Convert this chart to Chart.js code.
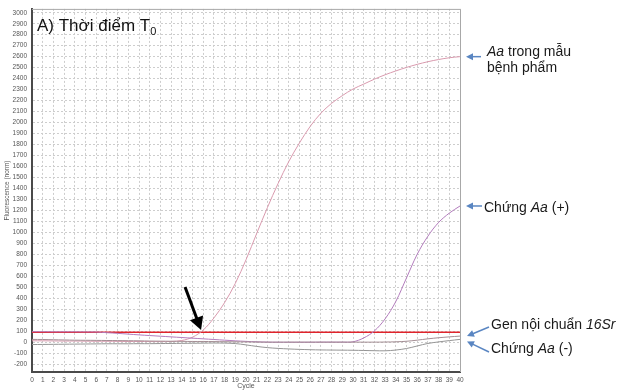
<!DOCTYPE html>
<html>
<head>
<meta charset="utf-8">
<script src="https://cdn.jsdelivr.net/npm/chart.js@4"></script>
<style>
  html, body { margin: 0; padding: 0; background: #fff; }
  #wrap { width: 617px; height: 391px; position: relative; }
</style>
</head>
<body>
<div id="wrap"><canvas id="pcrChart"></canvas></div>
<script>
// Amplification cycles
const cycles = [0, 1, 2, 3, 4, 5, 6, 7, 8, 9, 10, 11, 12, 13, 14, 15, 16, 17, 18, 19, 20,
  21, 22, 23, 24, 25, 26, 27, 28, 29, 30, 31, 32, 33, 34, 35, 36, 37, 38, 39, 40];

// Fluorescence (norm) per cycle
const sampleAa = [12, 12, 11, 10, 10, 9, 8, 8, 7, 6, 6, 5, 5, 6, 15, 45, 110, 220, 360, 535, 750,
  990, 1225, 1445, 1645, 1815, 1965, 2085, 2175, 2245, 2305, 2350, 2395, 2435, 2470, 2502, 2530, 2554, 2574, 2590, 2600];
const positiveAa = [95, 95, 94, 94, 94, 93, 92, 86, 80, 73, 66, 60, 54, 48, 42, 36, 30, 24, 18, 12, 7,
  3, 0, -1, -1, -1, -1, 0, 0, 0, 3, 38, 102, 212, 370, 585, 800, 965, 1090, 1175, 1240];
const gene16Sr = [25, 24, 22, 20, 18, 17, 16, 15, 14, 13, 12, 10, 9, 8, 7, 6, 6, 5, 4, 3, 2,
  1, 0, 0, 0, 0, 0, 0, 0, 0, 0, 0, 0, 1, 3, 8, 18, 30, 40, 48, 55];
const negativeAa = [-22, -21, -20, -19, -18, -17, -16, -15, -15, -15, -14, -14, -13, -12, -11, -10, -9, -8, -9, -13, -25,
  -39, -50, -57, -62, -66, -69, -71, -72, -73, -74, -76, -78, -79, -72, -58, -35, -12, 2, 14, 25];
const threshold = 90;

// Axis ticks
const yTicks = [-200, -100, 0, 100, 200, 300, 400, 500, 600, 700, 800, 900, 1000, 1100, 1200, 1300, 1400,
  1500, 1600, 1700, 1800, 1900, 2000, 2100, 2200, 2300, 2400, 2500, 2600, 2700, 2800, 2900, 3000];

const FONT = '"Liberation Sans", Arial, sans-serif';

function toPoints(values) {
    return cycles.map((c, i) => ({ x: c, y: values[i] }));
}

// Draws an arrow from (x1,y1) to (x2,y2) with a filled head at the end
function arrow(ctx, x1, y1, x2, y2, color, width, headLen, headHalf) {
    const ang = Math.atan2(y2 - y1, x2 - x1);
    ctx.save();
    ctx.strokeStyle = color;
    ctx.fillStyle = color;
    ctx.lineWidth = width;
    ctx.beginPath();
    ctx.moveTo(x1, y1);
    ctx.lineTo(x2 - Math.cos(ang) * headLen * 0.8, y2 - Math.sin(ang) * headLen * 0.8);
    ctx.stroke();
    ctx.beginPath();
    ctx.moveTo(x2, y2);
    ctx.lineTo(x2 - Math.cos(ang) * headLen - Math.sin(ang) * headHalf, y2 - Math.sin(ang) * headLen + Math.cos(ang) * headHalf);
    ctx.lineTo(x2 - Math.cos(ang) * headLen + Math.sin(ang) * headHalf, y2 - Math.sin(ang) * headLen - Math.cos(ang) * headHalf);
    ctx.closePath();
    ctx.fill();
    ctx.restore();
}

// Writes a run of [text, italic] pieces left to right
function richText(ctx, parts, x, y, size) {
    let cx = x;
    parts.forEach(([txt, italic]) => {
        ctx.font = (italic ? 'italic ' : '') + size + 'px ' + FONT;
        ctx.fillText(txt, cx, y);
        cx += ctx.measureText(txt).width;
    });
}

const annotations = {
    id: 'annotations',
    afterDraw(chart) {
        const { ctx, chartArea: a, scales: { x, y } } = chart;
        ctx.save();

        // light frame on top and right
        ctx.strokeStyle = '#a8a8a8';
        ctx.lineWidth = 1;
        ctx.beginPath();
        ctx.moveTo(a.left, a.top + 0.5);
        ctx.lineTo(a.right + 0.5, a.top + 0.5);
        ctx.lineTo(a.right + 0.5, a.bottom);
        ctx.stroke();

        // panel title
        ctx.fillStyle = '#111';
        ctx.textBaseline = 'alphabetic';
        ctx.font = '17px ' + FONT;
        const t = 'A) Thời điểm T';
        ctx.fillText(t, 37, 31);
        const tw = ctx.measureText(t).width;
        ctx.font = '11px ' + FONT;
        ctx.fillText('0', 37 + tw, 35);

        // black arrow at the threshold crossing of the sample
        const tipX = x.getPixelForValue(15.8);
        const tipY = y.getPixelForValue(110);
        arrow(ctx, tipX - 16, tipY - 43, tipX, tipY, '#000', 3, 13, 7);

        // series labels on the right
        const blue = '#5a86c2';
        const endX = x.getPixelForValue(40);
        ctx.fillStyle = '#1a1a1a';
        const ySample = y.getPixelForValue(sampleAa[sampleAa.length - 1]);
        arrow(ctx, 481, ySample, endX + 6, ySample, blue, 1.5, 7, 3.5);
        richText(ctx, [['Aa', true], [' trong mẫu', false]], 487, 56, 14);
        richText(ctx, [['bệnh phẩm', false]], 487, 72, 14);

        const yPos = y.getPixelForValue(positiveAa[positiveAa.length - 1]);
        arrow(ctx, 482, yPos, endX + 6, yPos, blue, 1.5, 7, 3.5);
        richText(ctx, [['Chứng ', false], ['Aa', true], [' (+)', false]], 484, 212, 14);

        const yGene = y.getPixelForValue(gene16Sr[gene16Sr.length - 1]);
        arrow(ctx, 489, 327, endX + 7, yGene, blue, 1.5, 7, 3.5);
        richText(ctx, [['Gen nội chuẩn ', false], ['16Sr', true]], 491, 329, 14);

        const yNeg = y.getPixelForValue(negativeAa[negativeAa.length - 1]);
        arrow(ctx, 489, 352, endX + 7, yNeg + 2, blue, 1.5, 7, 3.5);
        richText(ctx, [['Chứng ', false], ['Aa', true], [' (-)', false]], 491, 353, 14);

        ctx.restore();
    }
};

const lineStyle = {
    borderWidth: 1,
    pointRadius: 0,
    tension: 0.35,
    fill: false
};

new Chart(document.getElementById('pcrChart'), {
    type: 'line',
    data: {
        datasets: [
            { label: 'Chứng Aa (-)', data: toPoints(negativeAa), borderColor: '#959595', ...lineStyle },
            { label: 'Gen nội chuẩn 16Sr', data: toPoints(gene16Sr), borderColor: '#a48e94', ...lineStyle },
            { label: 'Chứng Aa (+)', data: toPoints(positiveAa), borderColor: '#b27cbc', ...lineStyle },
            { label: 'Aa trong mẫu bệnh phẩm', data: toPoints(sampleAa), borderColor: '#d99aae', ...lineStyle },
            {
                label: 'Threshold',
                data: [{ x: cycles[0], y: threshold }, { x: cycles[cycles.length - 1], y: threshold }],
                borderColor: '#e0242c', borderWidth: 1.6, pointRadius: 0
            }
        ]
    },
    options: {
        responsive: true,
        maintainAspectRatio: false,
        animation: false,
        layout: { padding: { left: 0, right: 157, top: 8, bottom: 0 } },
        plugins: { legend: { display: false }, tooltip: { enabled: false } },
        scales: {
            x: {
                type: 'linear',
                min: 0,
                max: 40,
                afterFit: s => { s.height = 19; },
                afterBuildTicks: s => { s.ticks = cycles.map(c => ({ value: c })); },
                ticks: { autoSkip: false, maxRotation: 0, padding: 4, color: '#555', font: { family: FONT, size: 6.5 },
                    callback: v => String(v) },
                grid: { color: '#cdcdcd', drawTicks: false },
                border: { color: '#4a4a4a', width: 2, dash: [2, 2] },
                title: { display: true, text: 'Cycle', color: '#555', padding: { top: 0, bottom: 1 }, font: { family: FONT, size: 7 } }
            },
            y: {
                min: -272,
                max: 3035,
                afterFit: s => { s.width = 32; },
                afterBuildTicks: s => { s.ticks = yTicks.map(v => ({ value: v })); },
                ticks: { autoSkip: false, padding: 5, color: '#555', font: { family: FONT, size: 6.5 },
                    callback: v => String(v) },
                grid: { color: '#cdcdcd', drawTicks: false },
                border: { color: '#4a4a4a', width: 2, dash: [2, 2] },
                title: { display: true, text: 'Fluorescence (norm)', color: '#555', padding: { top: 3, bottom: 0 }, font: { family: FONT, size: 6.5 } }
            }
        }
    },
    plugins: [annotations]
});
</script>
</body>
</html>
